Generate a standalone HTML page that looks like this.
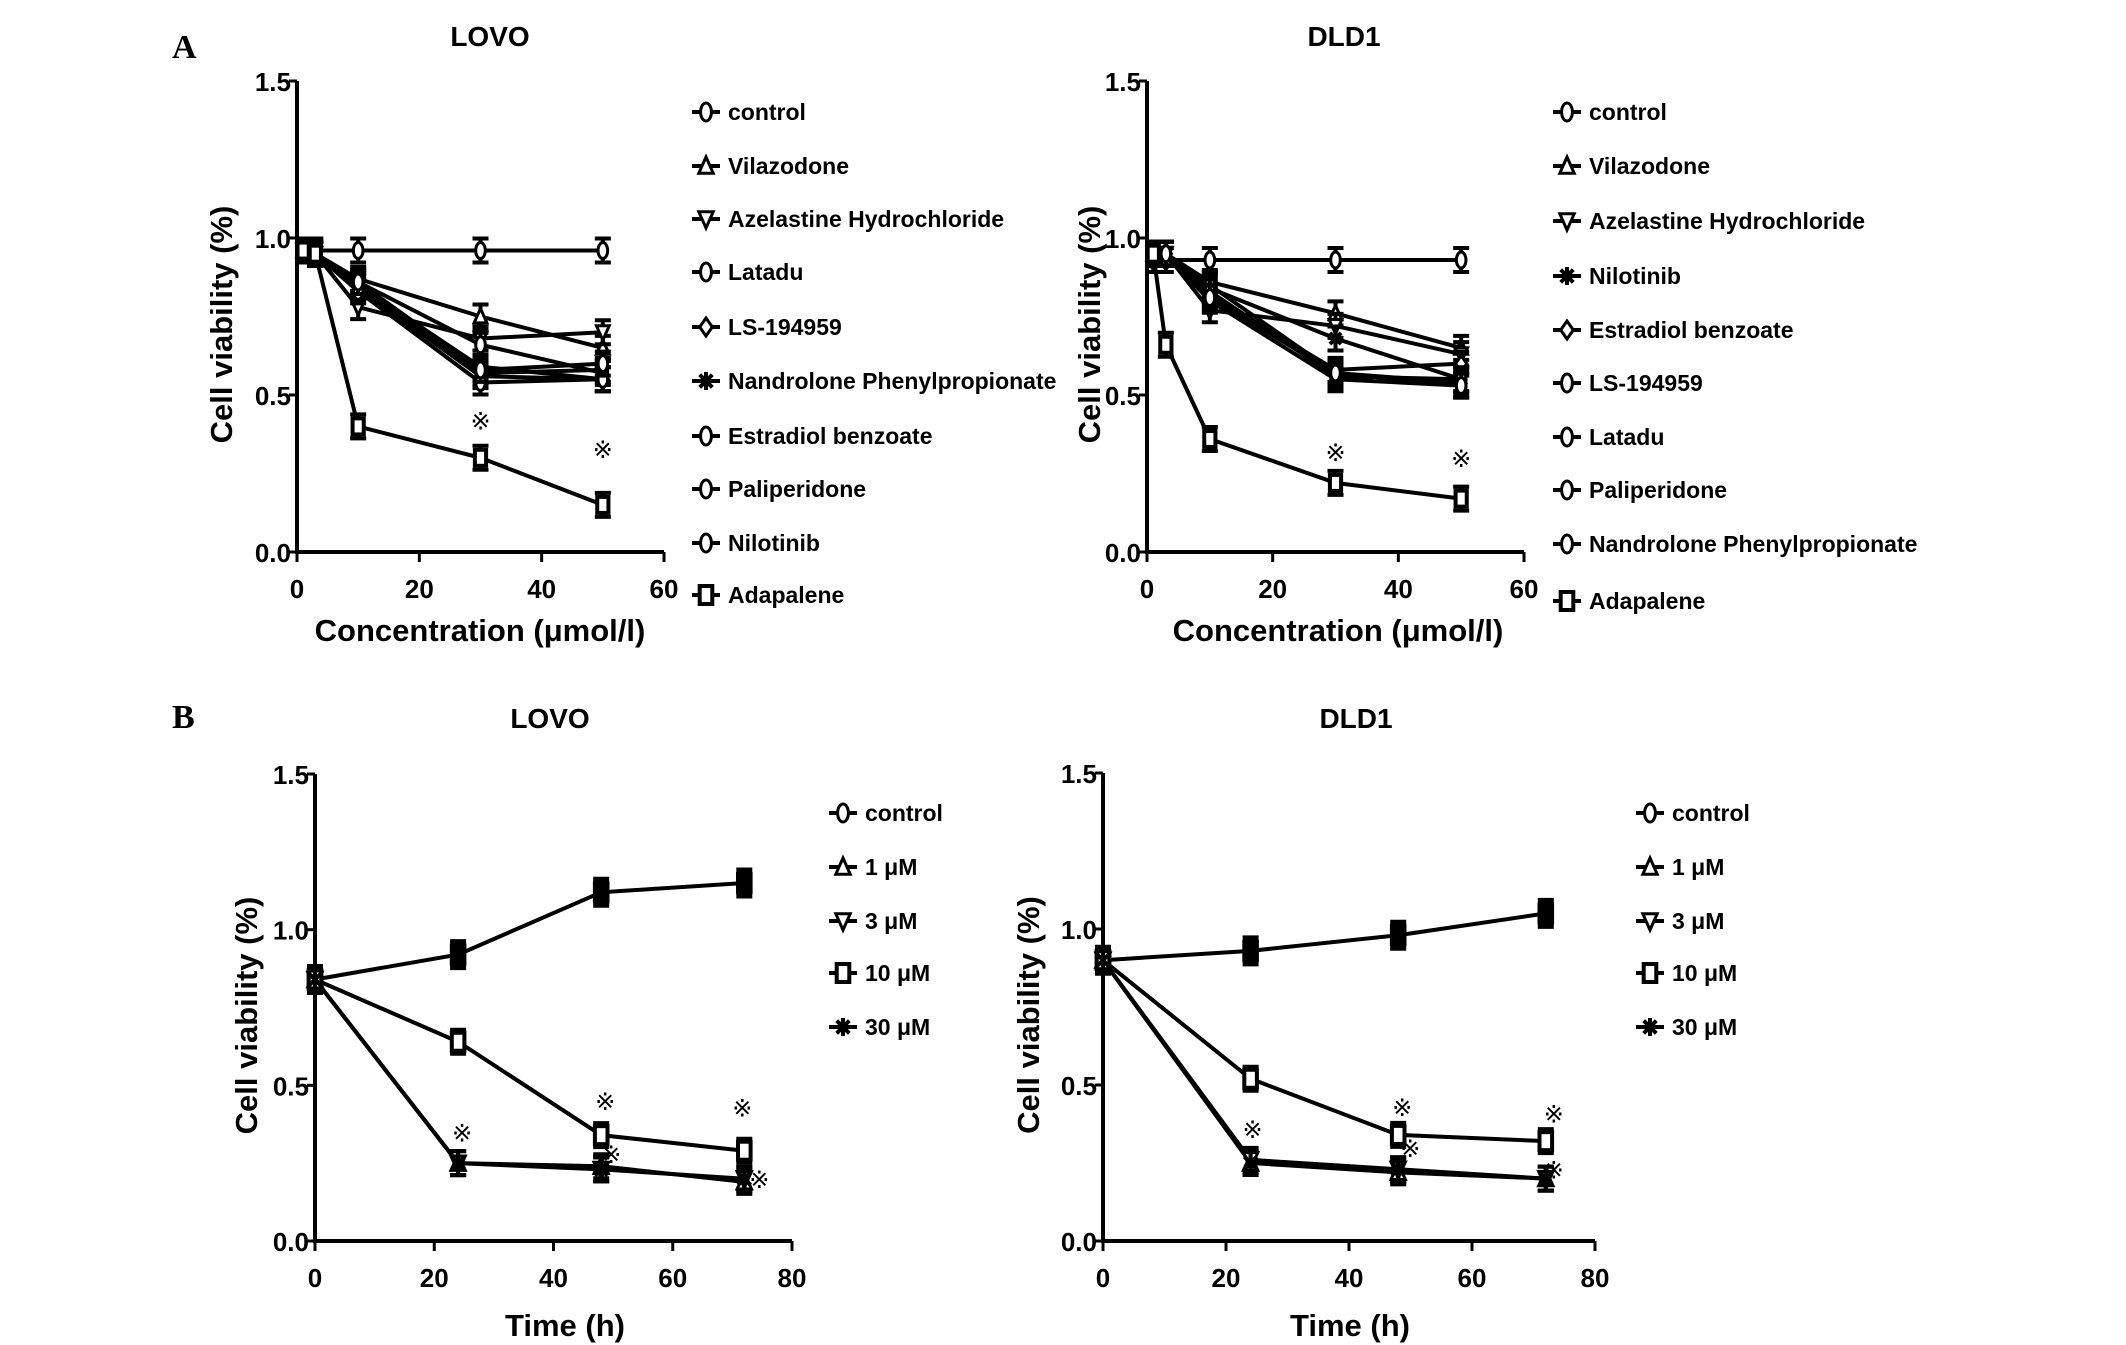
<!DOCTYPE html>
<html><head><meta charset="utf-8">
<style>
html,body{margin:0;padding:0;background:#fff}
svg{display:block}
text{font-family:"Liberation Sans",sans-serif;fill:#000}
.tick{font-family:"Liberation Sans Narrow","Liberation Sans",sans-serif;font-size:26px;font-weight:bold}
.leg{font-size:23px;font-weight:bold}
.ttl{font-size:28px;font-weight:bold}
.atl{font-size:31px;font-weight:bold}
.pl{font-family:"Liberation Serif",serif;font-size:34px;font-weight:bold}
</style></head>
<body>
<svg id="fig" width="2126" height="1345" viewBox="0 0 2126 1345" xmlns="http://www.w3.org/2000/svg">
<text class="pl" x="172" y="58">A</text>
<text class="pl" x="172" y="728">B</text>
</svg>
<script>
// ---- Data: panel A (concentration, µmol/l) ----
const concX = [1, 3, 10, 30, 50];
const lovoANames = ["control","Vilazodone","Azelastine Hydrochloride","Latadu","LS-194959","Nandrolone Phenylpropionate","Estradiol benzoate","Paliperidone","Nilotinib","Adapalene"];
const lovoAMarkers = ["circle","tri","itri","circle","diamond","star","circle","circle","circle","square"];
const lovoAControl = [0.96,0.96,0.96,0.96,0.96];
const lovoAVilazodone = [0.96,0.95,0.87,0.75,0.65];
const lovoAAzelastine = [0.96,0.95,0.78,0.68,0.70];
const lovoALatadu = [0.96,0.95,0.86,0.66,0.57];
const lovoALS = [0.96,0.95,0.85,0.59,0.55];
const lovoANandrolone = [0.96,0.95,0.84,0.56,0.55];
const lovoAEstradiol = [0.96,0.95,0.85,0.57,0.58];
const lovoAPaliperidone = [0.96,0.95,0.83,0.54,0.55];
const lovoANilotinib = [0.96,0.95,0.86,0.58,0.60];
const lovoAAdapalene = [0.96,0.95,0.40,0.30,0.15];

const dldANames = ["control","Vilazodone","Azelastine Hydrochloride","Nilotinib","Estradiol benzoate","LS-194959","Latadu","Paliperidone","Nandrolone Phenylpropionate","Adapalene"];
const dldAMarkers = ["circle","tri","itri","star","diamond","circle","circle","circle","circle","square"];
const dldAControl = [0.93,0.93,0.93,0.93,0.93];
const dldAVilazodone = [0.95,0.95,0.86,0.76,0.65];
const dldAAzelastine = [0.95,0.95,0.77,0.72,0.63];
const dldANilotinib = [0.95,0.95,0.84,0.68,0.55];
const dldAEstradiol = [0.95,0.95,0.82,0.58,0.60];
const dldALS = [0.95,0.95,0.85,0.57,0.54];
const dldALatadu = [0.95,0.95,0.80,0.55,0.53];
const dldAPaliperidone = [0.95,0.95,0.83,0.56,0.55];
const dldANandrolone = [0.95,0.95,0.81,0.57,0.53];
const dldAAdapalene = [0.95,0.66,0.36,0.22,0.17];

// ---- Data: panel B (time, h) ----
const timeX = [0, 24, 48, 72];
const bNames = ["control","1 μM","3 μM","10 μM","30 μM"];
const bMarkers = ["circle","tri","itri","square","star"];
const lovoBControl = [0.84,0.92,1.12,1.15];
const lovoB1 = [0.84,0.25,0.24,0.19];
const lovoB3 = [0.84,0.25,0.23,0.20];
const lovoB10 = [0.84,0.64,0.34,0.29];
const lovoB30 = [0.84,0.25,0.23,0.20];
const dldBControl = [0.90,0.93,0.98,1.05];
const dldB1 = [0.90,0.25,0.22,0.20];
const dldB3 = [0.90,0.26,0.23,0.20];
const dldB10 = [0.90,0.52,0.34,0.32];
const dldB30 = [0.90,0.25,0.23,0.20];

const yTicks = ["0.0","0.5","1.0","1.5"];
const xTicksA = ["0","20","40","60"];
const xTicksB = ["0","20","40","60","80"];

const NS = "http://www.w3.org/2000/svg";
const svg = document.getElementById("fig");
function mk(tag, attrs, parent){
  const e = document.createElementNS(NS, tag);
  for (const k in attrs) e.setAttribute(k, attrs[k]);
  (parent||svg).appendChild(e);
  return e;
}

function marker(g, type, cx, cy, s, fill){
  const f = fill || "#fff";
  let e;
  if (type === "circle") e = mk("ellipse",{cx:cx,cy:cy,rx:s*0.6,ry:s,fill:f,stroke:"#000","stroke-width":3},g);
  else if (type === "square") e = mk("rect",{x:cx-s*0.7,y:cy-s,width:s*1.4,height:s*2,fill:f,stroke:"#000","stroke-width":4},g);
  else if (type === "tri") e = mk("polygon",{points:`${cx},${cy-s} ${cx-s*0.8},${cy+s*0.8} ${cx+s*0.8},${cy+s*0.8}`,fill:f,stroke:"#000","stroke-width":3},g);
  else if (type === "itri") e = mk("polygon",{points:`${cx},${cy+s} ${cx-s*0.8},${cy-s*0.8} ${cx+s*0.8},${cy-s*0.8}`,fill:f,stroke:"#000","stroke-width":3},g);
  else if (type === "diamond") e = mk("polygon",{points:`${cx},${cy-s} ${cx+s*0.7},${cy} ${cx},${cy+s} ${cx-s*0.7},${cy}`,fill:f,stroke:"#000","stroke-width":3},g);
  else {
    e = mk("path",{d:`M${cx-s*0.7},${cy-s*0.7}L${cx+s*0.7},${cy+s*0.7}M${cx+s*0.7},${cy-s*0.7}L${cx-s*0.7},${cy+s*0.7}M${cx},${cy-s}L${cx},${cy+s}`,stroke:"#000","stroke-width":4,fill:"none"},g);
  }
  
  
  return e;
}

function chart(cfg){
  const g = mk("g",{});
  
  
  const xs = v => cfg.x0 + (v - cfg.xmin) / (cfg.xmax - cfg.xmin) * (cfg.x1 - cfg.x0);
  const ys = v => cfg.y0 - v / 1.5 * (cfg.y0 - cfg.y1);
  const t = mk("text",{x:cfg.tx,y:cfg.ty,class:"ttl","text-anchor":"middle"},g); t.textContent = cfg.title;
  
  
  const ax = mk("path",{d:`M${cfg.x0},${cfg.y1}L${cfg.x0},${cfg.y0}L${cfg.x1},${cfg.y0}`,stroke:"#000","stroke-width":4,fill:"none"},g);
  
  
  yTicks.forEach(lbl => {
    const y = ys(parseFloat(lbl));
    mk("line",{x1:cfg.x0-8,x2:cfg.x0,y1:y,y2:y,stroke:"#000","stroke-width":3},g);
    const tt = mk("text",{x:cfg.x0-6,y:y+10,class:"tick","text-anchor":"end"},g); tt.textContent = lbl;
    
    
  });
  cfg.xt.forEach(lbl => {
    const x = xs(parseFloat(lbl));
    mk("line",{x1:x,x2:x,y1:cfg.y0,y2:cfg.y0+10,stroke:"#000","stroke-width":3},g);
    const tt = mk("text",{x:x,y:cfg.y0+46,class:"tick","text-anchor":"middle"},g); tt.textContent = lbl;
    
    
  });
  const xl = mk("text",{x:cfg.xlx,y:cfg.xly,class:"atl","text-anchor":"middle"},g); xl.textContent = cfg.xlabel;
  
  
  const yl = mk("text",{x:0,y:0,class:"atl","text-anchor":"middle",transform:`translate(${cfg.ylx},${(cfg.y0+cfg.y1)/2+8}) rotate(-90)`},g); yl.textContent = "Cell viability (%)";
  
  
  cfg.series.forEach((vals, i) => {
    const sg = mk("g",{},g);
    
    
    const d = vals.map((v,j) => (j?"L":"M") + xs(cfg.xv[j]) + "," + ys(v)).join("");
    const thin = cfg.thin && cfg.thin.includes(i);
    mk("path",{d:d,stroke:"#000","stroke-width":thin?2.5:4,fill:"none"},sg);
    const solid = cfg.solid && cfg.solid.includes(i);
    vals.forEach((v,j) => {
      const cx = xs(cfg.xv[j]), cy = ys(v), e = cfg.err;
      mk("path",{d:`M${cx},${cy-e}L${cx},${cy+e}M${cx-8},${cy-e}L${cx+8},${cy-e}M${cx-8},${cy+e}L${cx+8},${cy+e}`,stroke:"#000","stroke-width":solid?7:4},sg);
      marker(sg, solid ? "square" : cfg.markers[i], cx, cy, cfg.ms, solid ? "#000" : null);
    });
  });
  (cfg.stars||[]).forEach(s => {
    const st = mk("text",{x:xs(s[0])+(s[2]||0),y:ys(s[1]),"font-size":"24","text-anchor":"middle","font-family":"Noto Sans CJK SC, sans-serif"},g);
    st.textContent = "※";
    
    
  });
  cfg.names.forEach((n, i) => {
    const lg = mk("g",{},g);
    
    
    const y = cfg.ly[i];
    mk("line",{x1:cfg.lx-14,x2:cfg.lx+14,y1:y,y2:y,stroke:"#000","stroke-width":4},lg);
    marker(lg, cfg.markers[i], cfg.lx, y, 9);
    const tt = mk("text",{x:cfg.lx+22,y:y+8,class:"leg"},lg); tt.textContent = n;
  });
}

const rowsA1 = [112,166,219,272,327,381,436,489,543,595];
const rowsA2 = [112,166,221,276,330,383,437,490,544,601];
const rowsB = [813,867,921,973,1027];

chart({id:"chart-lovo-concentration",title:"LOVO",tx:490,ty:46,x0:297,x1:664,xmin:0,xmax:60,y0:552,y1:81,
  xv:concX,xt:xTicksA,xlabel:"Concentration (μmol/l)",xlx:480,xly:641,ylx:232,
  series:[lovoAControl,lovoAVilazodone,lovoAAzelastine,lovoALatadu,lovoALS,lovoANandrolone,lovoAEstradiol,lovoAPaliperidone,lovoANilotinib,lovoAAdapalene],
  names:lovoANames,markers:lovoAMarkers,thin:[],err:12,ms:8,lx:706,ly:rowsA1,
  stars:[[30,0.39],[50,0.30]]});

chart({id:"chart-dld1-concentration",title:"DLD1",tx:1344,ty:46,x0:1147,x1:1524,xmin:0,xmax:60,y0:552,y1:81,
  xv:concX,xt:xTicksA,xlabel:"Concentration (μmol/l)",xlx:1338,xly:641,ylx:1100,
  series:[dldAControl,dldAVilazodone,dldAAzelastine,dldANilotinib,dldAEstradiol,dldALS,dldALatadu,dldAPaliperidone,dldANandrolone,dldAAdapalene],
  names:dldANames,markers:dldAMarkers,thin:[],err:12,ms:8,lx:1567,ly:rowsA2,
  stars:[[30,0.29],[50,0.27]]});

chart({id:"chart-lovo-time",title:"LOVO",tx:550,ty:728,x0:315,x1:792,xmin:0,xmax:80,y0:1241,y1:774,
  xv:timeX,xt:xTicksB,xlabel:"Time (h)",xlx:565,xly:1336,ylx:257,
  series:[lovoBControl,lovoB1,lovoB3,lovoB10,lovoB30],
  names:bNames,markers:bMarkers,thin:[4],solid:[0],err:12,ms:9,lx:843,ly:rowsB,
  stars:[[24,0.32,4],[48,0.42,4],[72,0.40,-2],[48,0.25,10],[72,0.17,15]]});

chart({id:"chart-dld1-time",title:"DLD1",tx:1356,ty:728,x0:1103,x1:1595,xmin:0,xmax:80,y0:1241,y1:773,
  xv:timeX,xt:xTicksB,xlabel:"Time (h)",xlx:1350,xly:1336,ylx:1039,
  series:[dldBControl,dldB1,dldB3,dldB10,dldB30],
  names:bNames,markers:bMarkers,thin:[4],solid:[0],err:12,ms:9,lx:1650,ly:rowsB,
  stars:[[24,0.33,2],[48,0.40,4],[72,0.38,8],[48,0.27,12],[72,0.20,8]]});
</script>
</body></html>
